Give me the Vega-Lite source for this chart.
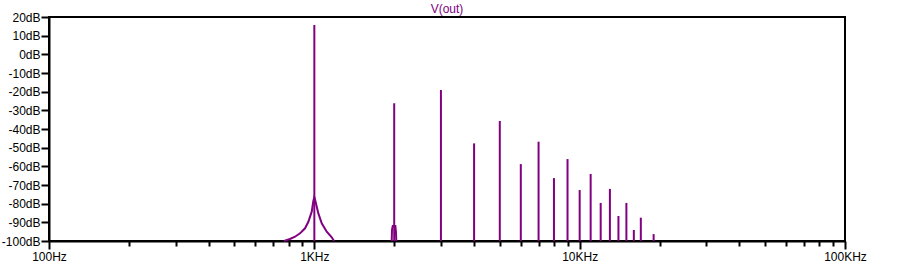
{
  "$schema": "https://vega.github.io/schema/vega-lite/v6.json",
  "autosize": "none",
  "width": 796,
  "height": 224,
  "padding": {"left": 49, "top": 17, "right": 58, "bottom": 26},
  "background": "white",
  "config": {
    "view": {"stroke": "black", "strokeWidth": 2},
    "font": "Liberation Sans"
  },
  "title": {
    "text": "V(out)",
    "color": "#800080",
    "font": "Liberation Sans",
    "fontSize": 12,
    "fontWeight": "normal",
    "anchor": "middle",
    "offset": 2,
    "dy": 7
  },
  "datasets": {
    "harmonics": [
      {"freq": 1000, "db": 15.7},
      {"freq": 2000, "db": -26.2},
      {"freq": 3000, "db": -19.1},
      {"freq": 4000, "db": -47.7},
      {"freq": 5000, "db": -35.7},
      {"freq": 6000, "db": -58.8},
      {"freq": 7000, "db": -46.8},
      {"freq": 8000, "db": -66.3},
      {"freq": 9000, "db": -56.1},
      {"freq": 10000, "db": -72.7},
      {"freq": 11000, "db": -64.1},
      {"freq": 12000, "db": -79.6},
      {"freq": 13000, "db": -72.1},
      {"freq": 14000, "db": -86.6},
      {"freq": 15000, "db": -79.6},
      {"freq": 16000, "db": -94.1},
      {"freq": 17000, "db": -87.5},
      {"freq": 19000, "db": -96.3}
    ],
    "skirt": [
      {"part": "f1", "freq": 769, "db": -100},
      {"part": "f1", "freq": 809.5, "db": -98.9},
      {"part": "f1", "freq": 845.8, "db": -97.7},
      {"part": "f1", "freq": 883.3, "db": -95.9},
      {"part": "f1", "freq": 922.5, "db": -93.2},
      {"part": "f1", "freq": 949.3, "db": -89.7},
      {"part": "f1", "freq": 977.7, "db": -84.3},
      {"part": "f1", "freq": 991.3, "db": -78.5},
      {"part": "f1", "freq": 1000, "db": -76.5},
      {"part": "f1", "freq": 1008.8, "db": -78.5},
      {"part": "f1", "freq": 1035.4, "db": -85.2},
      {"part": "f1", "freq": 1066.3, "db": -90.5},
      {"part": "f1", "freq": 1113.5, "db": -95},
      {"part": "f1", "freq": 1163, "db": -98},
      {"part": "f1", "freq": 1186, "db": -100},
      {"part": "f2", "freq": 1957, "db": -100},
      {"part": "f2", "freq": 1962, "db": -94},
      {"part": "f2", "freq": 1975, "db": -92},
      {"part": "f2", "freq": 2020, "db": -92},
      {"part": "f2", "freq": 2030, "db": -95},
      {"part": "f2", "freq": 2037, "db": -100}
    ]
  },
  "encoding": {
    "x": {
      "field": "freq",
      "type": "quantitative",
      "scale": {"type": "log", "domain": [100, 100000], "nice": false},
      "axis": {
        "title": null,
        "grid": false,
        "values": [100, 200, 300, 400, 500, 600, 700, 800, 900, 1000, 2000, 3000, 4000, 5000, 6000, 7000, 8000, 9000, 10000, 20000, 30000, 40000, 50000, 60000, 70000, 80000, 90000, 100000],
        "labelExpr": "datum.value == 100 ? '100Hz' : datum.value == 1000 ? '1KHz' : datum.value == 10000 ? '10KHz' : datum.value == 100000 ? '100KHz' : ''",
        "labelOverlap": false,
        "labelFlush": false,
        "labelFont": "Liberation Sans",
        "labelFontSize": 12,
        "labelColor": "black",
        "labelPadding": 2,
        "domainColor": "black",
        "domainWidth": 2,
        "tickColor": "black",
        "tickWidth": 2,
        "tickSize": {"condition": {"test": "datum.value == 100 || datum.value == 1000 || datum.value == 10000 || datum.value == 100000", "value": 8}, "value": 5}
      }
    },
    "y": {
      "field": "db",
      "type": "quantitative",
      "scale": {"domain": [-100, 20], "nice": false, "zero": false},
      "axis": {
        "title": null,
        "grid": false,
        "values": [-100, -90, -80, -70, -60, -50, -40, -30, -20, -10, 0, 10, 20],
        "labelExpr": "datum.value + 'dB'",
        "labelOverlap": false,
        "labelFlush": false,
        "labelFont": "Liberation Sans",
        "labelFontSize": 12,
        "labelColor": "black",
        "labelPadding": 1,
        "domainColor": "black",
        "domainWidth": 2,
        "tickColor": "black",
        "tickWidth": 2,
        "tickSize": 8
      }
    }
  },
  "layer": [
    {
      "data": {"name": "harmonics"},
      "mark": {"type": "rule", "color": "#800080", "strokeWidth": 2},
      "encoding": {
        "y2": {"datum": -100}
      }
    },
    {
      "data": {"name": "skirt"},
      "mark": {"type": "line", "color": "#800080", "strokeWidth": 2},
      "encoding": {
        "detail": {"field": "part"}
      }
    }
  ]
}
